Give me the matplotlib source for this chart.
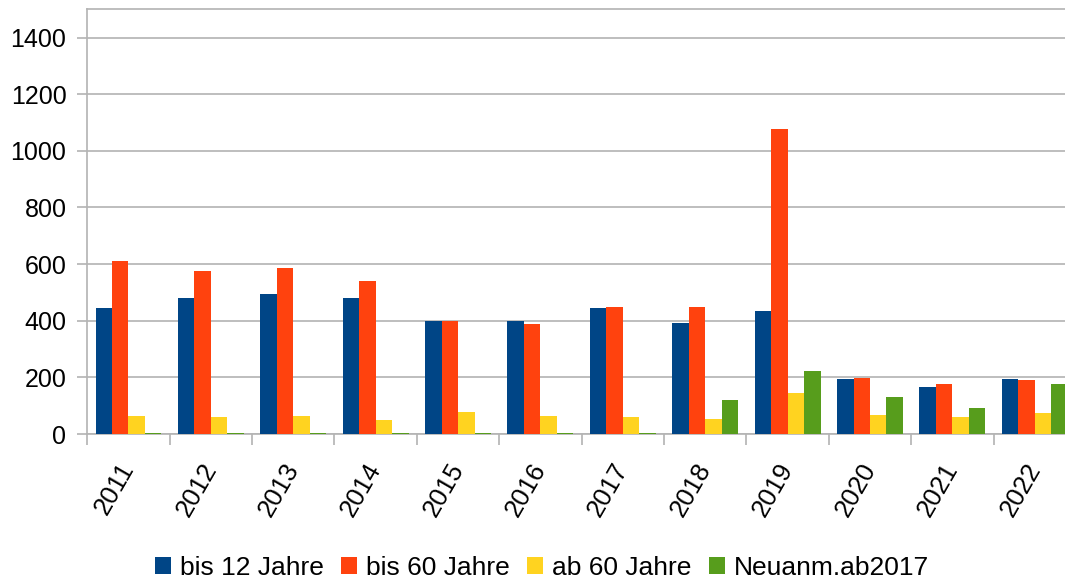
import matplotlib
matplotlib.use("Agg")
import matplotlib.pyplot as plt
import numpy as np

years = ["2011", "2012", "2013", "2014", "2015", "2016", "2017", "2018", "2019", "2020", "2021", "2022"]
bis12 = [445, 480, 494, 480, 400, 400, 445, 392, 434, 194, 166, 194]
bis60 = [611, 575, 586, 540, 400, 388, 448, 448, 1077, 199, 176, 190]
ab60 = [63, 60, 63, 49, 77, 63, 60, 52, 145, 67, 60, 74]
neu = [2, 2, 2, 2, 2, 2, 2, 120, 222, 130, 92, 176]
series_names = ["bis 12 Jahre", "bis 60 Jahre", "ab 60 Jahre", "Neuanm.ab2017"]
colors = ["#004586", "#ff420e", "#ffd320", "#579d1c"]

plt.rcParams['font.family'] = ['Liberation Sans', 'DejaVu Sans']

fig = plt.figure(figsize=(10.65, 5.83), dpi=100)
ax = fig.add_axes([87.3/1065, 1-434/583, (1076-87.3)/1065, (434-9.3)/583])

n = len(years)
centers = np.arange(n) + 0.5
w = 0.2
for i, (vals, name, c) in enumerate(zip([bis12, bis60, ab60, neu], series_names, colors)):
    ax.bar(centers + (i - 1.5) * w, vals, width=w, color=c, label=name, zorder=3)

ax.set_xlim(0, n)
ax.set_ylim(0, 1500)
ax.set_yticks(np.arange(0, 1401, 200))
ax.yaxis.grid(True, color="#b3b3b3", linewidth=1.2, zorder=0)
ax.set_axisbelow(True)

ax.set_xticks(np.arange(0, n + 1))
ax.set_xticklabels([])
ax.set_xticks(centers, minor=True)
ax.set_xticklabels(years, minor=True, rotation=60, ha='right', va='center', rotation_mode='anchor', fontsize=18.5)
ax.tick_params(axis='x', which='major', length=8, color="#b3b3b3", width=1.2)
ax.tick_params(axis='x', which='minor', length=0, pad=22)
ax.tick_params(axis='y', length=7, color="#b3b3b3", width=1.2, labelsize=18, pad=8)

for s in ['left', 'top', 'bottom', 'right']:
    ax.spines[s].set_color("#b3b3b3")
    ax.spines[s].set_linewidth(1.2)

fig.legend(loc='center', bbox_to_anchor=(542/1065, 1-568/583), ncol=4, frameon=False,
           fontsize=19, handlelength=0.6, handleheight=0.6, handletextpad=0.33,
           columnspacing=0.67, borderaxespad=0)

fig.savefig("out.png", dpi=100)
